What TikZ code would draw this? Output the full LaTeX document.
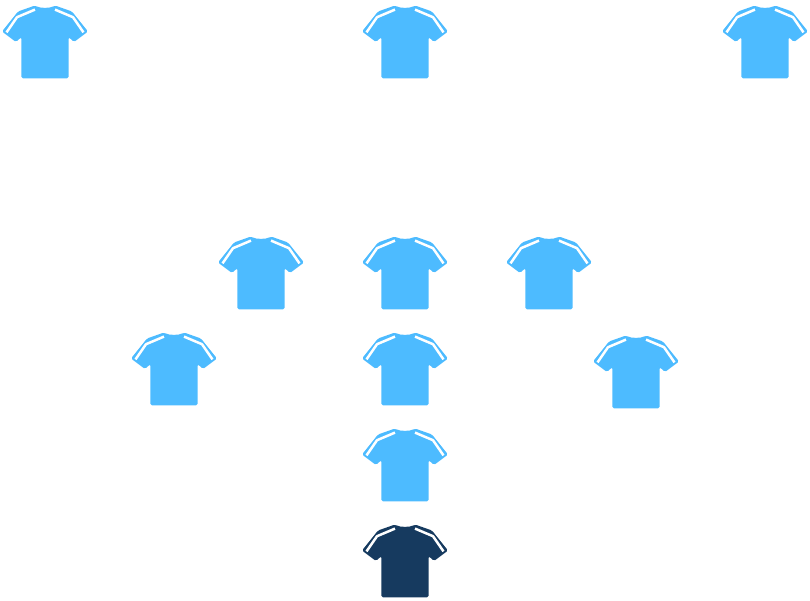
\documentclass[tikz,border=0pt]{standalone}
\definecolor{shirtblue}{HTML}{4DBBFF}
\definecolor{shirtdark}{HTML}{163A5F}
\tikzset{
  shirt/.pic={
    \fill[pic actions, rounded corners=1.6]
      (-10,-0.5) .. controls (-5,2.4) and (5,2.4) .. (10,-0.5)
      -- (27,5.5) -- (43,25.5) -- (29,36) -- (23.6,31)
      -- (23.6,72.3) -- (-23.6,72.3) -- (-23.6,31) -- (-29,36) -- (-43,25.5) -- (-27,5.5) -- cycle;
    \draw[white, line width=2.5, line join=round] (10,3.6) -- (28,11.2) -- (38.5,26.4);
    \draw[white, line width=2.5, line join=round] (-10,3.6) -- (-28,11.2) -- (-38.5,26.4);
  },
  light shirt/.style={fill=shirtblue},
  dark shirt/.style={fill=shirtdark}
}
\begin{document}
\begin{tikzpicture}[x=1pt,y=-1pt]
\useasboundingbox (0,0) rectangle (810,600);
\foreach \cx/\cy in {45/6,405/6,765/6,261/237,405/237,549/237,174/333,405/333,636/336,405/429}
  \pic[light shirt] at (\cx,\cy) {shirt};
\pic[dark shirt] at (405,525) {shirt};
\end{tikzpicture}
\end{document}
